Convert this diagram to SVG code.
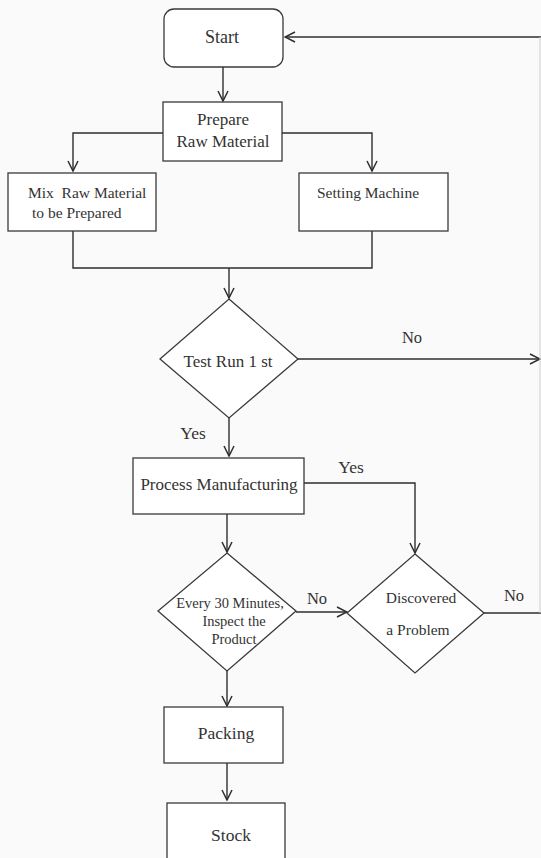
<svg xmlns="http://www.w3.org/2000/svg" width="541" height="858" viewBox="0 0 541 858">
<defs>
<style>
.box{fill:#fff;stroke:#3a3a3a;stroke-width:1.3}
.ln{fill:none;stroke:#2e2e2e;stroke-width:1.4}
.t{font-family:'Liberation Serif','DejaVu Serif','Times New Roman',serif;fill:#333;text-anchor:middle}
</style>
<marker id="ah" viewBox="0 0 12 12" refX="11" refY="6" markerWidth="12" markerHeight="12" markerUnits="userSpaceOnUse" orient="auto">
<polyline points="1,1 11,6 1,11" fill="none" stroke="#2e2e2e" stroke-width="1.5"/>
</marker>
</defs>
<rect width="541" height="858" fill="#fafafa"/>
<g id="connectors">
<line class="ln" x1="223" y1="67" x2="223" y2="101" marker-end="url(#ah)"/>
<polyline class="ln" points="163,133 73,133 73,171" marker-end="url(#ah)"/>
<polyline class="ln" points="282,133 372,133 372,171" marker-end="url(#ah)"/>
<polyline class="ln" points="73,231 73,268 372,268 372,224"/>
<line class="ln" x1="229" y1="268" x2="229" y2="298" marker-end="url(#ah)"/>
<line class="ln" x1="298" y1="359" x2="540" y2="359" marker-end="url(#ah)"/>
<line class="ln" x1="229" y1="418" x2="229" y2="456" marker-end="url(#ah)"/>
<polyline class="ln" points="304,483 415,483 415,553" marker-end="url(#ah)"/>
<line class="ln" x1="227" y1="514" x2="227" y2="552" marker-end="url(#ah)"/>
<line class="ln" x1="296" y1="612" x2="347" y2="612" marker-end="url(#ah)"/>
<line class="ln" x1="484" y1="613" x2="541" y2="613"/>
<line class="ln" x1="227" y1="671" x2="227" y2="706" marker-end="url(#ah)"/>
<line class="ln" x1="227" y1="763" x2="227" y2="800" marker-end="url(#ah)"/>
<line class="ln" x1="541" y1="37" x2="285" y2="37" marker-end="url(#ah)"/>
<line x1="540" y1="37" x2="540" y2="613" stroke="#cfcfcf" stroke-width="1"/>
<text class="t" x="412" y="343" font-size="16.5">No</text>
<text class="t" x="193" y="439" font-size="17.5">Yes</text>
<text class="t" x="351" y="473" font-size="17.5">Yes</text>
<text class="t" x="317" y="604" font-size="16.5">No</text>
<text class="t" x="514" y="601" font-size="16.5">No</text>
</g>
<g id="start">
<rect class="box" x="164" y="9" width="119" height="58" rx="10"/>
<text class="t" x="222" y="43" font-size="18">Start</text>
</g>
<g id="prepare">
<rect class="box" x="163" y="102" width="119" height="59"/>
<text class="t" x="223" y="125" font-size="17">Prepare</text>
<text class="t" x="223" y="147" font-size="17">Raw Material</text>
</g>
<g id="mix">
<rect class="box" x="8" y="173" width="148" height="58"/>
<text class="t" x="28" y="198" font-size="15.5" style="text-anchor:start;white-space:pre" xml:space="preserve">Mix  Raw Material</text>
<text class="t" x="32" y="218" font-size="15.5" style="text-anchor:start">to be Prepared</text>
</g>
<g id="setting">
<rect class="box" x="299" y="173" width="149" height="58"/>
<text class="t" x="317" y="198" font-size="15.5" style="text-anchor:start">Setting Machine</text>
</g>
<g id="test-run">
<polygon class="box" points="229,299 298,359 229,418 160,359"/>
<text class="t" x="228" y="367" font-size="17">Test Run 1 st</text>
</g>
<g id="process">
<rect class="box" x="133" y="458" width="171" height="56"/>
<text class="t" x="219" y="490" font-size="17">Process Manufacturing</text>
</g>
<g id="inspect">
<polygon class="box" points="227,553 296,611 227,671 158,611"/>
<text class="t" x="230" y="608" font-size="14.5">Every 30 Minutes,</text>
<text class="t" x="234" y="626" font-size="14.5">Inspect the</text>
<text class="t" x="234" y="644" font-size="14.5">Product</text>
</g>
<g id="problem">
<polygon class="box" points="415,554 484,613 415,673 347,613"/>
<text class="t" x="421" y="603" font-size="15.5">Discovered</text>
<text class="t" x="418" y="635" font-size="15.5">a Problem</text>
</g>
<g id="packing">
<rect class="box" x="164" y="707" width="119" height="56"/>
<text class="t" x="226" y="739" font-size="17.5">Packing</text>
</g>
<g id="stock">
<rect class="box" x="167" y="803" width="118" height="60"/>
<text class="t" x="231" y="841" font-size="17.5">Stock</text>
</g>
</svg>
